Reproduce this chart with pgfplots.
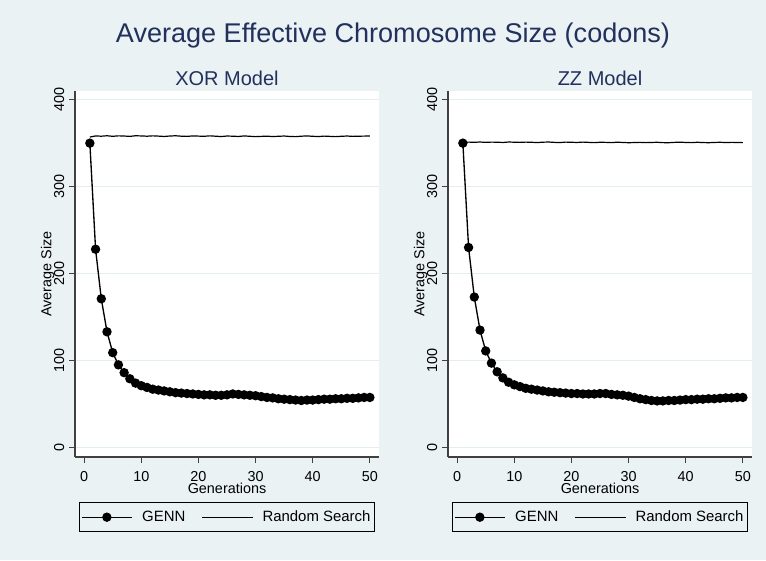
\documentclass[border=0pt]{standalone}
\usepackage{pgfplots}
\pgfplotsset{compat=1.18}
\usepackage{pgfplotstable}
\usepackage{fontspec}
\setmainfont{Liberation Sans}
\definecolor{bg}{HTML}{EAF2F3}
\definecolor{gridc}{HTML}{E3EEF2}
\definecolor{titlec}{HTML}{22305E}
\pgfplotstableread{
x y
1 350
2 228
3 171
4 133
5 109
6 95
7 86
8 79
9 74
10 71
11 69
12 67
13 66
14 65
15 64
16 63
17 62.5
18 62
19 61.5
20 61
21 60.5
22 60.5
23 60
24 60
25 60.5
26 61.5
27 61
28 60.5
29 60
30 59.5
31 58.5
32 57.5
33 57
34 56
35 55.5
36 55
37 54.5
38 54
39 54.5
40 54.5
41 55
42 55.5
43 55.5
44 56
45 56
46 56.5
47 56.5
48 57
49 57.5
50 57.5
}\genxor
\pgfplotstableread{
x y
1 350
2 230
3 173
4 135
5 111
6 97
7 87
8 80
9 75
10 72
11 70
12 68
13 67
14 66
15 65
16 64
17 63.5
18 63
19 62.5
20 62
21 62
22 61.5
23 61.5
24 61.5
25 62
26 62
27 61
28 60.5
29 60
30 59
31 57.5
32 56
33 55
34 54
35 53.5
36 53.5
37 54
38 54
39 54.5
40 55
41 55
42 55.5
43 55.5
44 56
45 56
46 56.5
47 57
48 57
49 57.5
50 57.5
}\genzz
\pgfplotstableread{
x y
1 357
2 358.3
3 358.0
4 358.5
5 357.9
6 358.4
7 358.2
8 357.8
9 358.5
10 358.3
11 358.0
12 358.4
13 358.1
14 357.7
15 358.2
16 358.5
17 358.0
18 357.8
19 358.3
20 358.1
21 357.9
22 358.4
23 358.0
24 357.6
25 358.2
26 358.0
27 357.7
28 358.3
29 357.9
30 357.5
31 357.8
32 358.0
33 357.6
34 357.9
35 358.2
36 357.7
37 357.5
38 358.0
39 358.3
40 357.9
41 357.6
42 358.1
43 357.8
44 357.5
45 357.9
46 358.2
47 357.8
48 358.0
49 358.1
50 358.2
}\rsxor
\pgfplotstableread{
x y
1 351
2 351.2
3 351.0
4 351.3
5 350.9
6 351.2
7 351.1
8 350.8
9 351.3
10 351.1
11 350.9
12 351.2
13 351.0
14 350.7
15 351.1
16 351.3
17 350.9
18 350.7
19 351.2
20 351.0
21 350.8
22 351.2
23 350.9
24 350.6
25 351.0
26 350.9
27 350.6
28 351.1
29 350.8
30 350.5
31 350.7
32 350.9
33 350.6
34 350.8
35 351.0
36 350.6
37 350.5
38 350.9
39 351.1
40 350.8
41 350.6
42 351.0
43 350.7
44 350.5
45 350.8
46 351.0
47 350.7
48 350.9
49 350.8
50 350.6
}\rszz
\pgfplotsset{
  panel/.style={
    scale only axis,
    width=228pt, height=274.5pt,
    xmin=-1.6, xmax=51.6, ymin=-11, ymax=410,
    axis x line*=bottom, axis y line*=left,
    axis line style={black!75, line width=0.8pt},
    axis background/.style={fill=white},
    xtick={0,10,...,50}, ytick={0,100,...,400},
    tick align=outside, major tick length=4.5pt,
    tick style={black!75, line width=0.7pt},
    minor tick num=0,
    ymajorgrids, major grid style={gridc, line width=0.8pt},
    /pgf/number format/assume math mode=true,
    tick label style={font=\fontsize{10.8}{12}\selectfont},
    xticklabel style={yshift=-3pt},
    yticklabel style={rotate=90, anchor=south},
    label style={font=\fontsize{10.8}{12}\selectfont},
    xlabel={Generations},
    ylabel={Average Size},
    xlabel style={yshift=6pt},
    ylabel style={yshift=-7pt},
    clip=false,
    legend columns=2,
    legend style={at={(0.5,-0.124)}, anchor=north, draw=black, line width=0.6pt, fill=bg,
      font=\fontsize{11.2}{13}\selectfont, inner ysep=4pt, inner xsep=1pt,
      /tikz/every odd column/.append style={column sep=5pt},
      /tikz/every even column/.append style={column sep=10pt}},
    legend image code/.code={\draw[mark repeat=2,mark phase=2,##1] plot coordinates {(0pt,0pt)(19pt,0pt)(38pt,0pt)};},
  },
  genn/.style={black, line width=1pt, mark=*, mark size=3pt, mark options={fill=black}},
  rs/.style={black, line width=0.9pt, no marks},
}
\begin{document}
\begin{tikzpicture}
\fill[bg] (0pt,0pt) rectangle (574.5pt,420pt);
\useasboundingbox (0pt,0pt) rectangle (574.5pt,420pt);
\node[text=titlec, font=\fontsize{20.3}{24}\selectfont] at (294.75pt,393pt) {Average Effective Chromosome Size (codons)};
\node[text=titlec, font=\fontsize{15}{18}\selectfont] at (170.25pt,361.5pt) {XOR Model};
\node[text=titlec, font=\fontsize{15}{18}\selectfont] at (450pt,361.5pt) {ZZ Model};
\begin{axis}[panel, at={(56.25pt,77.25pt)}, anchor=south west]
\addplot[genn] table {\genxor};
\addlegendentry{GENN}
\addplot[rs] table {\rsxor};
\addlegendentry{Random Search}
\end{axis}
\begin{axis}[panel, at={(336pt,77.25pt)}, anchor=south west]
\addplot[genn] table {\genzz};
\addlegendentry{GENN}
\addplot[rs] table {\rszz};
\addlegendentry{Random Search}
\end{axis}
\end{tikzpicture}
\end{document}
